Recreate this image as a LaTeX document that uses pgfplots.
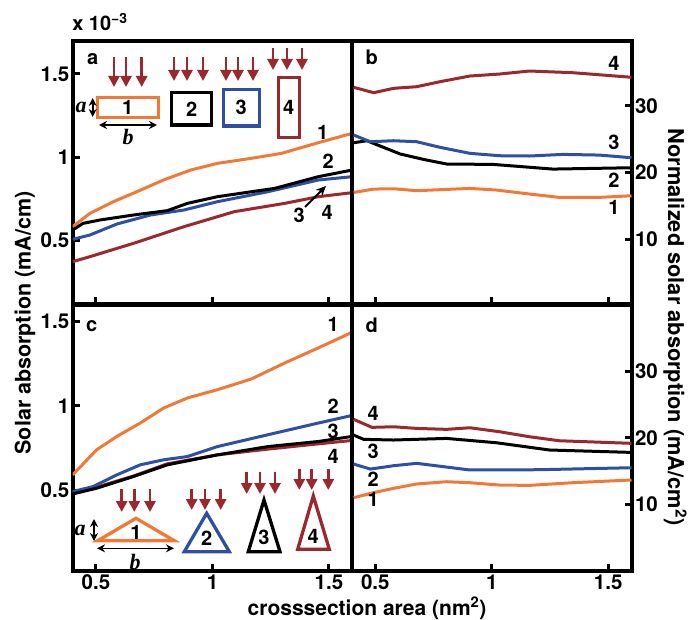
\documentclass[border=0pt]{standalone}
\usepackage{fontspec}
\setmainfont{TeX Gyre Heros}
\newfontfamily\timesf{Liberation Serif}
\usepackage{pgfplots}
\pgfplotsset{compat=1.18}
\usetikzlibrary{arrows.meta}
\definecolor{cor}{RGB}{242,121,53}
\definecolor{cbl}{RGB}{45,80,165}
\definecolor{cdr}{RGB}{155,40,45}
\pgfplotsset{
  panel/.style={scale only axis, width=279.5pt, xmin=0.4, xmax=1.6,
    xtick={0.5,1,1.5}, tick align=inside, xtick pos=left,
    major tick length=7pt, every tick/.style={black,line width=3pt},
    axis line style={line width=4pt},
    /pgf/number format/assume math mode=true,
    ticklabel style={font=\fontsize{20.5}{24}\selectfont\bfseries},
    every axis plot/.append style={line width=3pt, line join=round, no marks}}
}
\begin{document}
\begin{tikzpicture}[font=\fontsize{20}{24}\selectfont\bfseries]
\path[use as bounding box] (0pt,0pt) rectangle (691pt,-620pt);
% panel a
\begin{axis}[panel, at={(72.7pt,-304.5pt)}, anchor=south west, height=263.5pt,
  ymin=0.117, ymax=1.698, ytick={0.5,1,1.5}, ytick pos=left, xticklabels={}]
\addplot[cor] coordinates {(0.4,0.584) (0.474,0.664) (0.575,0.734) (0.676,0.794) (0.79,0.864) (0.907,0.924) (1.022,0.964) (1.167,0.994) (1.297,1.024) (1.47,1.094) (1.6,1.144)};
\addplot[cbl] coordinates {(0.4,0.508) (0.474,0.534) (0.59,0.6) (0.734,0.654) (0.878,0.684) (1.022,0.734) (1.239,0.794) (1.455,0.864) (1.6,0.884)};
\addplot[black] coordinates {(0.4,0.564) (0.445,0.604) (0.517,0.624) (0.661,0.654) (0.806,0.68) (0.893,0.724) (1.022,0.764) (1.268,0.814) (1.455,0.884) (1.6,0.924)};
\addplot[cdr] coordinates {(0.4,0.374) (0.474,0.404) (0.661,0.484) (0.878,0.584) (1.094,0.674) (1.311,0.724) (1.455,0.764) (1.6,0.788)};
\end{axis}
% panel b
\begin{axis}[panel, at={(352pt,-304.5pt)}, anchor=south west, height=263.5pt,
  ymin=0.2, ymax=39.7, ytick={10,20,30}, ytick pos=right, yticklabel pos=right, xticklabels={}]
\addplot[cdr] coordinates {(0.407,32.76) (0.493,31.95) (0.578,32.6) (0.678,32.85) (0.778,33.6) (0.906,34.45) (1.034,34.75) (1.162,35.2) (1.347,34.95) (1.6,34.26)};
\addplot[black] coordinates {(0.407,24.45) (0.464,24.75) (0.607,22.76) (0.706,21.96) (0.806,21.26) (1.006,21.2) (1.262,20.5) (1.6,20.7)};
\addplot[cbl] coordinates {(0.407,25.6) (0.479,24.6) (0.578,24.75) (0.678,24.6) (0.778,23.76) (0.906,22.86) (1.034,22.5) (1.162,22.46) (1.305,22.7) (1.462,22.6) (1.6,22.2)};
\addplot[cor] coordinates {(0.407,17.0) (0.493,17.5) (0.578,17.55) (0.678,17.26) (0.906,17.6) (1.02,17.36) (1.162,16.76) (1.29,16.26) (1.462,16.26) (1.6,16.5)};
\end{axis}
% panel c
\begin{axis}[panel, at={(72.7pt,-571pt)}, anchor=south west, height=266.5pt,
  ymin=0.025, ymax=1.599, ytick={0.5,1,1.5}, ytick pos=left]
\addplot[cor] coordinates {(0.4,0.593) (0.503,0.741) (0.59,0.82) (0.69,0.899) (0.791,0.988) (0.893,1.047) (1.022,1.096) (1.167,1.159) (1.311,1.254) (1.455,1.343) (1.6,1.435)};
\addplot[cdr] coordinates {(0.4,0.49) (0.503,0.52) (0.661,0.586) (0.806,0.658) (1.022,0.711) (1.239,0.745) (1.455,0.776) (1.6,0.796)};
\addplot[cbl] coordinates {(0.4,0.494) (0.488,0.524) (0.59,0.593) (0.69,0.652) (0.791,0.682) (0.893,0.701) (1.022,0.76) (1.239,0.83) (1.455,0.899) (1.6,0.944)};
\addplot[black] coordinates {(0.4,0.48) (0.503,0.514) (0.661,0.583) (0.806,0.652) (1.022,0.711) (1.239,0.76) (1.455,0.79) (1.6,0.82)};
\end{axis}
% panel d
\begin{axis}[panel, at={(352pt,-571pt)}, anchor=south west, height=266.5pt,
  ymin=0, ymax=40, ytick={10,20,30}, ytick pos=right, yticklabel pos=right]
\addplot[cdr] coordinates {(0.407,22.76) (0.486,21.56) (0.578,21.65) (0.678,21.4) (0.806,21.26) (0.906,21.5) (1.034,20.9) (1.162,20.15) (1.29,19.55) (1.6,19.16)};
\addplot[black] coordinates {(0.407,20.4) (0.45,19.76) (0.578,19.66) (0.806,19.9) (1.02,19.25) (1.248,18.16) (1.6,17.8)};
\addplot[cbl] coordinates {(0.407,16.05) (0.479,15.3) (0.578,15.8) (0.678,16.16) (0.906,15.16) (1.2,15.2) (1.6,15.5)};
\addplot[cor] coordinates {(0.407,11.0) (0.493,11.76) (0.578,12.4) (0.678,13.06) (0.806,13.4) (0.906,13.25) (1.034,12.9) (1.162,12.85) (1.347,13.25) (1.6,13.66)};
\end{axis}
\begin{scope}[x=1pt,y=-1pt]
% titles and labels
\node[anchor=base] at (100,31) {x 10\textsuperscript{−3}};
\node[rotate=90,font=\fontsize{21.5}{24}\selectfont\bfseries] at (25,323) {Solar absorption (mA/cm)};
\node[rotate=-90,font=\fontsize{21.8}{24}\selectfont\bfseries] at (675,327) {Normalized solar absorption (mA/cm\textsuperscript{2})};
\node[anchor=base,font=\fontsize{21}{24}\selectfont\bfseries] at (367,615) {crosssection area (nm\textsuperscript{2})};
\node[anchor=base] at (92.7,65) {a};
\node[anchor=base] at (371.7,65) {b};
\node[anchor=base] at (91.7,331.7) {c};
\node[anchor=base] at (371.7,333) {d};
% curve numbers
\node[anchor=base] at (322.7,140) {1};
\node[anchor=base] at (328.3,168.3) {2};
\node[anchor=base] at (299.3,222.7) {3};
\node[anchor=base] at (327.3,220) {4};
\draw[line width=2pt,-{Stealth[length=10pt,width=9pt]}] (305,207) -- (326,186);
\node[anchor=base] at (614,70.7) {4};
\node[anchor=base] at (614,150) {3};
\node[anchor=base] at (614,187.3) {2};
\node[anchor=base] at (614,215) {1};
\node[anchor=base] at (333.3,331.7) {1};
\node[anchor=base] at (333.3,413.3) {2};
\node[anchor=base] at (333.3,438.3) {3};
\node[anchor=base] at (333.3,463.3) {4};
\node[anchor=base] at (373.3,420) {4};
\node[anchor=base] at (373.3,458.3) {3};
\node[anchor=base] at (373.3,486) {2};
\node[anchor=base] at (373.3,506.7) {1};
% inset a
\tikzset{rarr/.style={cdr,line width=2.8pt,-{Triangle[length=11pt,width=11pt]}},
         dim/.style={black,line width=1.6pt,{Stealth[length=8pt,width=8pt]}-{Stealth[length=8pt,width=8pt]}},
         ab/.style={font=\fontsize{22}{24}\selectfont\timesf\bfseries\itshape}}
\foreach \x in {114,126,141.7}{\draw[rarr] (\x,57) -- (\x,87);}
\foreach \x in {174,187,203}{\draw[rarr] (\x,57) -- (\x,81);}
\foreach \x in {226,238,253}{\draw[rarr] (\x,57) -- (\x,81);}
\foreach \x in {273,287,302}{\draw[rarr] (\x,48) -- (\x,70);}
\draw[cor,line width=3.3pt] (97.3,97.7) rectangle (158.3,117.3);
\node at (127.8,107.5) {1};
\draw[dim] (92.7,98) -- (92.7,117);
\node[ab] at (81,107) {a};
\draw[dim] (99,125) -- (157,125);
\node[ab] at (128,137) {b};
\draw[black,line width=3.3pt] (171.7,92.7) rectangle (211.7,125);
\node at (191.7,108.8) {2};
\draw[cbl,line width=3.3pt] (223.3,89.3) rectangle (259.3,126);
\node at (241.3,107.6) {3};
\draw[cdr,line width=3.3pt] (278.3,77.3) rectangle (299.3,137.7);
\node at (288.8,107.5) {4};
% inset c
\foreach \x in {121.7,134.3,150}{\draw[rarr] (\x,489) -- (\x,512);}
\foreach \x in {191.7,205,220.7}{\draw[rarr] (\x,489) -- (\x,510);}
\foreach \x in {246.7,260,275}{\draw[rarr] (\x,472) -- (\x,494);}
\foreach \x in {299.3,311.7,328.3}{\draw[rarr] (\x,468.5) -- (\x,490);}
\draw[cor,line width=3.3pt,line join=miter] (97.7,540.7) -- (136,518.3) -- (174.3,540.7) -- cycle;
\node at (136,532) {1};
\draw[dim] (94,519) -- (94,541);
\node[ab] at (80,530) {a};
\draw[dim] (97,548.3) -- (174,548.3);
\node[ab] at (135,562) {b};
\draw[cbl,line width=3.3pt,line join=miter] (184.3,551.7) -- (206.7,513.3) -- (229.3,551.7) -- cycle;
\node at (206.7,538) {2};
\draw[black,line width=3.3pt,line join=miter] (248.3,551.7) -- (264,500) -- (280,551.7) -- cycle;
\node at (264,537) {3};
\draw[cdr,line width=3.3pt,line join=miter] (297.7,549.3) -- (313.3,496) -- (329.3,549.3) -- cycle;
\node at (313.3,536) {4};
\end{scope}
\end{tikzpicture}
\end{document}
